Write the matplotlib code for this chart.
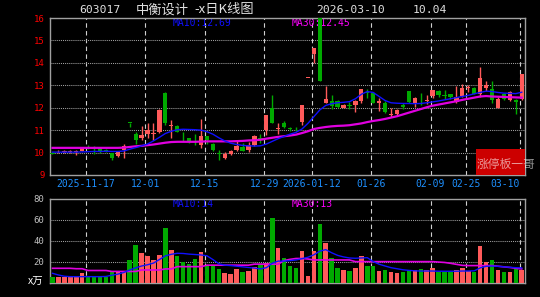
import matplotlib
matplotlib.use('Agg')
import matplotlib.pyplot as plt
from matplotlib.patches import Rectangle

# ---- data (one entry per trading day) ----
opens = [10.00, 10.05, 10.03, 10.03, 10.02, 10.07, 10.26, 10.20, 10.21, 10.12,
         9.98, 9.84, 10.13, 11.33, 10.85, 10.63, 10.82, 10.84, 10.93, 12.67,
         11.20, 11.18, 10.75, 10.63, 10.57, 10.35, 10.73, 10.40, 9.96, 9.78,
         9.92, 10.13, 10.25, 10.10, 10.33, 10.65, 11.00, 12.00, 11.05, 11.33,
         11.09, 11.06, 11.37, 13.34, 14.39, 16.14, 12.23, 12.29, 12.29, 11.99,
         12.10, 12.14, 12.29, 12.70, 12.67, 12.23, 12.23, 11.68, 11.70, 12.12,
         12.73, 12.18, 12.27, 12.30, 12.51, 12.73, 12.57, 12.60, 12.25, 12.51,
         12.88, 12.90, 12.63, 12.90, 12.85, 12.00, 12.63, 12.33, 12.33, 12.40]
closes = [9.95, 10.08, 10.07, 10.07, 10.06, 10.22, 10.24, 10.18, 10.06, 10.08,
          9.78, 10.03, 10.28, 11.32, 10.58, 10.78, 11.00, 10.87, 11.90, 11.30,
          11.25, 10.93, 10.72, 10.45, 10.54, 10.75, 10.55, 10.10, 9.94, 9.92,
          10.06, 10.28, 10.07, 10.33, 10.75, 10.62, 11.66, 11.33, 11.09, 11.12,
          11.06, 11.03, 12.13, 13.34, 14.67, 13.20, 12.41, 12.08, 12.04, 12.14,
          12.07, 12.32, 12.82, 12.65, 12.23, 12.32, 11.79, 11.72, 11.89, 12.05,
          12.25, 12.43, 12.24, 12.35, 12.78, 12.55, 12.54, 12.48, 12.48, 12.90,
          12.92, 12.63, 13.34, 13.00, 12.33, 12.40, 12.40, 12.70, 12.26, 13.49]
highs = [10.02, 10.10, 10.12, 10.10, 10.13, 10.25, 10.33, 10.28, 10.24, 10.15,
         10.00, 10.05, 10.37, 11.34, 10.93, 11.18, 11.30, 11.30, 11.95, 12.70,
         11.45, 11.22, 10.93, 10.66, 10.85, 11.48, 10.76, 10.43, 10.13, 10.03,
         10.10, 10.55, 10.43, 10.48, 10.78, 10.85, 11.68, 12.57, 11.33, 11.40,
         11.15, 11.12, 12.13, 13.34, 14.67, 16.14, 12.95, 12.56, 12.35, 12.17,
         12.25, 12.35, 12.85, 12.85, 12.70, 12.44, 12.30, 12.00, 11.95, 12.20,
         12.75, 12.50, 12.66, 12.55, 12.80, 12.78, 12.80, 12.62, 12.97, 13.05,
         13.00, 12.93, 13.82, 13.20, 13.20, 12.50, 12.65, 12.75, 12.40, 13.50]
lows = [9.93, 10.00, 10.00, 10.00, 9.88, 10.05, 10.18, 9.95, 10.00, 10.03,
        9.66, 9.80, 9.78, 11.15, 10.37, 10.55, 10.63, 10.55, 10.88, 11.22,
        10.63, 10.90, 10.52, 10.42, 10.33, 10.22, 10.40, 10.07, 9.66, 9.73,
        9.90, 10.09, 10.05, 10.03, 10.30, 10.43, 10.78, 11.30, 10.82, 11.10,
        10.98, 10.95, 11.25, 13.34, 13.98, 13.20, 12.20, 11.93, 12.00, 11.97,
        11.95, 11.81, 12.20, 12.44, 12.20, 11.84, 11.75, 11.60, 11.65, 11.95,
        12.20, 12.03, 12.10, 12.18, 12.45, 12.50, 12.40, 12.38, 12.20, 12.48,
        12.70, 12.60, 12.48, 12.75, 12.20, 11.98, 12.35, 12.30, 11.73, 12.35]
volumes = [5.6, 5.6, 5.6, 5.6, 5.6, 8.8, 5.6, 5.6, 5.6, 5.6,
           10.4, 9.8, 9.8, 21.3, 36.0, 28.0, 25.8, 21.6, 26.4, 52.0,
           31.2, 25.4, 20.0, 17.8, 22.6, 29.0, 16.2, 16.2, 13.0, 9.4,
           8.2, 13.0, 10.4, 11.0, 15.2, 17.4, 18.4, 61.6, 32.8, 23.2,
           16.0, 13.6, 30.2, 6.4, 30.2, 55.8, 38.0, 23.0, 14.0, 12.0,
           11.0, 14.2, 25.4, 15.8, 16.0, 11.0, 12.0, 10.4, 9.4, 10.0,
           12.3, 12.0, 13.3, 11.8, 13.5, 10.0, 10.0, 10.0, 12.0, 14.0,
           10.6, 10.4, 34.6, 20.0, 21.4, 12.0, 10.4, 9.6, 12.8, 12.0]
ma10 = [10.02, 10.02, 10.02, 10.02, 10.02, 10.03, 10.04, 10.05, 10.05, 10.06,
        10.05, 10.05, 10.07, 10.15, 10.22, 10.30, 10.38, 10.52, 10.68, 10.85,
        10.95, 11.02, 11.04, 11.03, 11.02, 11.00, 10.93, 10.82, 10.66, 10.52,
        10.42, 10.36, 10.32, 10.30, 10.29, 10.30, 10.38, 10.50, 10.62, 10.72,
        10.82, 10.90, 11.05, 11.30, 11.60, 11.90, 12.10, 12.18, 12.22, 12.24,
        12.27, 12.40, 12.60, 12.72, 12.68, 12.50, 12.32, 12.22, 12.20, 12.19,
        12.19, 12.18, 12.19, 12.22, 12.26, 12.30, 12.35, 12.40, 12.45, 12.50,
        12.55, 12.62, 12.68, 12.74, 12.72, 12.68, 12.65, 12.64, 12.63, 12.69]
ma30 = [10.21, 10.21, 10.21, 10.21, 10.21, 10.21, 10.21, 10.21, 10.21, 10.21,
        10.21, 10.21, 10.22, 10.25, 10.28, 10.30, 10.33, 10.36, 10.40, 10.44,
        10.47, 10.48, 10.48, 10.48, 10.48, 10.49, 10.50, 10.50, 10.50, 10.50,
        10.50, 10.51, 10.52, 10.54, 10.55, 10.57, 10.62, 10.66, 10.70, 10.73,
        10.76, 10.80, 10.87, 10.95, 11.05, 11.10, 11.14, 11.17, 11.19, 11.20,
        11.22, 11.26, 11.30, 11.36, 11.41, 11.45, 11.50, 11.56, 11.62, 11.70,
        11.78, 11.86, 11.94, 12.02, 12.09, 12.14, 12.19, 12.24, 12.29, 12.35,
        12.40, 12.45, 12.50, 12.52, 12.50, 12.49, 12.48, 12.47, 12.46, 12.45]
vol_ma10 = [8.8, 7.2, 6.0, 5.6, 5.6, 5.6, 5.6, 5.6, 5.6, 5.8,
            7.0, 8.0, 9.6, 12.0, 14.0, 15.8, 17.0, 18.6, 22.0, 25.5,
            27.0, 28.0, 27.8, 27.2, 26.8, 26.4, 25.6, 22.0, 18.0, 16.6,
            16.2, 15.6, 15.0, 14.4, 13.8, 13.0, 14.2, 18.5, 20.5, 20.5,
            21.0, 21.6, 22.8, 24.2, 26.5, 30.0, 31.5, 28.5, 26.0, 24.5,
            23.5, 23.2, 23.5, 23.8, 20.0, 17.5, 15.8, 14.2, 13.2, 12.2,
            11.6, 11.2, 11.0, 11.0, 11.0, 10.8, 10.8, 10.8, 10.8, 11.0,
            11.0, 11.2, 14.0, 15.5, 15.8, 15.5, 15.0, 14.6, 14.2, 14.0]
vol_ma30 = [13.6, 13.6, 13.6, 13.6, 13.2, 13.2, 11.5, 11.5, 11.5, 11.5,
            10.6, 10.6, 10.6, 10.6, 10.6, 12.0, 12.0, 12.0, 12.0, 13.0,
            13.0, 15.2, 15.2, 15.2, 15.2, 15.2, 16.6, 16.6, 16.6, 16.6,
            16.6, 16.6, 16.6, 16.6, 17.6, 17.6, 17.6, 17.6, 17.6, 21.0,
            22.2, 23.0, 23.0, 22.5, 21.6, 21.6, 21.6, 21.6, 21.6, 21.6,
            21.6, 20.0, 20.0, 20.0, 20.0, 20.0, 20.0, 20.0, 20.0, 20.0,
            20.0, 20.0, 20.0, 20.0, 20.0, 19.6, 19.2, 18.4, 17.4, 16.4,
            16.2, 16.2, 16.2, 16.2, 16.2, 15.6, 15.0, 14.4, 13.6, 13.0]
date_labels = ['2025-11-17', '12-01', '12-15', '12-29', '2026-01-12',
               '01-26', '02-09', '02-25', '03-10']
date_idx = [6, 16, 26, 36, 44, 54, 64, 70, 79]
price_ticks = [9, 10, 11, 12, 13, 14, 15, 16]
vol_ticks = [20, 40, 60, 80]

RED = '#FF5A5A'
GREEN = '#00AA00'
CJK = ['Noto Sans CJK SC', 'DejaVu Sans']
MONO = 'DejaVu Sans Mono'

W, H = 540, 297
fig = plt.figure(figsize=(W / 100, H / 100), dpi=100, facecolor='black')


def fx(px):
    return px / W


def fy(py):
    return 1 - py / H


ax = fig.add_axes([fx(50), fy(175), fx(525) - fx(50), fy(18) - fy(175)])
axv = fig.add_axes([fx(50), fy(282.5), fx(525) - fx(50), fy(199) - fy(282.5)])

n = len(closes)
xs = list(range(n))
cols = [RED if c >= o else GREEN for o, c in zip(opens, closes)]

for a in (ax, axv):
    a.set_facecolor('black')
    a.set_xlim(-0.42, 79.55)
    for s in a.spines.values():
        s.set_color('#A0A0A0')
        s.set_linewidth(1)
    a.tick_params(length=0)
    a.set_xticks([])
    for i in date_idx:
        a.axvline(i - 0.35, color='#D0D0D0', lw=0.8, ls=(0, (4, 3)), zorder=1)

# price panel
ax.set_ylim(9, 16)
for p in price_ticks[1:-1]:
    ax.axhline(p, color='#A0A0A0', lw=0.75, ls=(0, (1, 1)), zorder=1)
ax.set_yticks(price_ticks)
ax.set_yticklabels([str(p) for p in price_ticks], color='#FF0000',
                   fontsize=6.5, family=MONO)
ax.tick_params(axis='y', pad=4)

ax.vlines(xs, lows, highs, colors=cols, lw=1, zorder=3)
bottoms = [min(o, c) for o, c in zip(opens, closes)]
heights = [max(abs(c - o), 0.03) for o, c in zip(opens, closes)]
ax.bar(xs, heights, bottom=bottoms, width=0.72, color=cols, lw=0, zorder=4)
ax.plot(xs, ma30, color='#E000E0', lw=1.6, zorder=5)
ax.plot(xs, ma10, color='#1010FF', lw=1, zorder=6)

ax.text(fx(173), fy(23.5), 'MA10:12.69', transform=fig.transFigure, color='#1010FF',
        fontsize=7, family=MONO, va='center', zorder=2)
ax.text(fx(292), fy(23.5), 'MA30:12.45', transform=fig.transFigure, color='#FF00FF',
        fontsize=7, family=MONO, va='center', zorder=2)

for lab, i in zip(date_labels, date_idx):
    ha = 'right' if i == date_idx[-1] else 'center'
    ax.text(i - 0.35, -0.057, lab, transform=ax.get_xaxis_transform(), color='#1E90FF',
            fontsize=7, family=MONO, ha=ha, va='center', clip_on=False)

# watermark box
ax.add_patch(Rectangle((fx(475.7), fy(175)), fx(525) - fx(475.7), fy(149.3) - fy(175),
                       transform=fig.transFigure, color='#CC0000', lw=0, zorder=7))
ax.text(fx(476.5), fy(164), '涨停板一哥', transform=fig.transFigure, color='white',
        alpha=0.6, fontsize=8.5, family=CJK, va='center', zorder=8, clip_on=False)

# volume panel
axv.set_ylim(0, 80)
for v in vol_ticks[:-1]:
    axv.axhline(v, color='#A0A0A0', lw=0.75, ls=(0, (1, 1)), zorder=1)
axv.set_yticks(vol_ticks)
axv.set_yticklabels([str(v) for v in vol_ticks], color='#C0C0C0',
                    fontsize=6.5, family=MONO)
axv.tick_params(axis='y', pad=4)
axv.bar(xs, volumes, width=0.76, color=cols, lw=0, zorder=3)
axv.plot(xs, vol_ma30, color='#E000E0', lw=1.2, zorder=5)
axv.plot(xs, vol_ma10, color='#1010FF', lw=1, zorder=6)
axv.text(fx(172.5), fy(204), 'MA10:14', transform=fig.transFigure, color='#1010FF',
         fontsize=7, family=MONO, va='center', zorder=2)
axv.text(fx(292), fy(204), 'MA30:13', transform=fig.transFigure, color='#FF00FF',
         fontsize=7, family=MONO, va='center', zorder=2)
fig.text(fx(28), fy(282), 'x万', color='white', fontsize=7.5, family=CJK, va='center')

# title
fig.text(fx(79), fy(10), '603017', color='#E0E0E0', fontsize=8.2, family=MONO, va='center')
fig.text(fx(136), fy(10), '中衡设计', color='#E0E0E0', fontsize=9.5, family=CJK, va='center')
fig.text(fx(194), fy(10), '-x日K线图', color='#E0E0E0', fontsize=9.5, family=CJK, va='center')
fig.text(fx(316), fy(10), '2026-03-10', color='#E0E0E0', fontsize=8.2, family=MONO, va='center')
fig.text(fx(413), fy(10), '10.04', color='#E0E0E0', fontsize=8.2, family=MONO, va='center')

fig.savefig('out.png', dpi=100, facecolor='black')
